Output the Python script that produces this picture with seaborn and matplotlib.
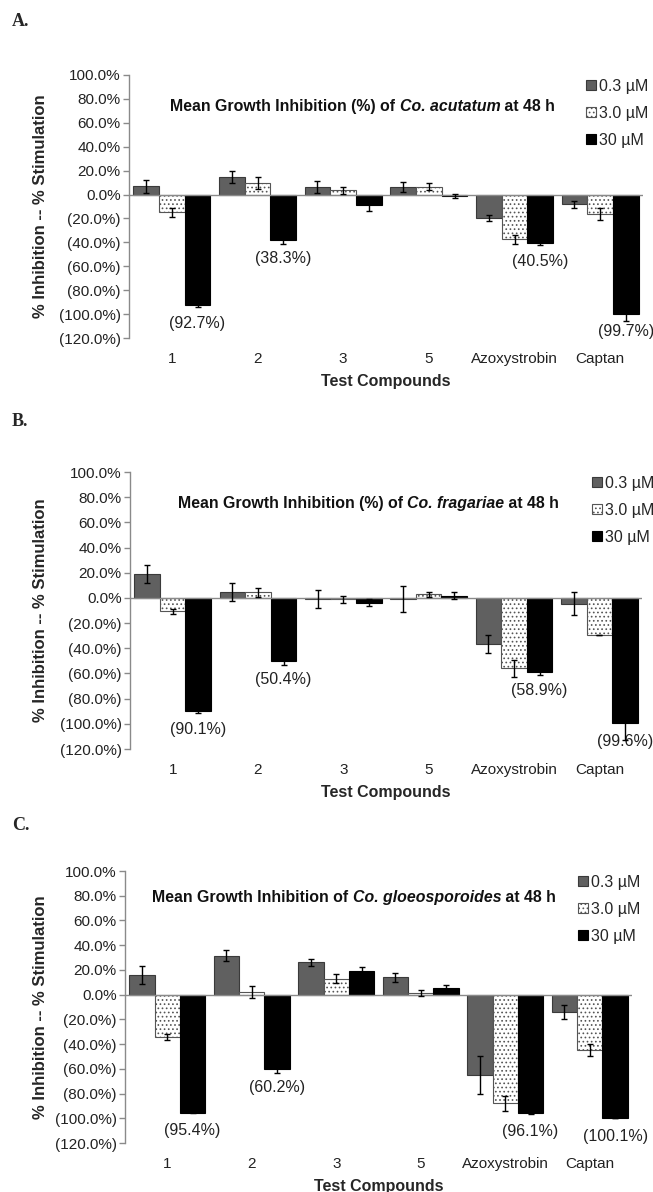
import matplotlib
matplotlib.use("Agg")
import matplotlib.pyplot as plt
import seaborn as sns
import pandas as pd
from matplotlib.ticker import FuncFormatter, FixedLocator
from matplotlib.offsetbox import TextArea, HPacker, AnchoredOffsetbox

# ---------------- data ----------------
compounds = ["1", "2", "3", "5", "Azoxystrobin", "Captan"]
concs = ["0.3 µM", "3.0 µM", "30 µM"]

A_03 = [7, 15, 6, 6.5, -20, -8]
A_03_err = [5.5, 5, 5, 4, 2.5, 3]
A_3 = [-15, 10, 3.5, 6.5, -37.5, -16.5]
A_3_err = [3.5, 5, 3, 3, 4, 5]
A_30 = [-92.7, -38.3, -8.5, -1.2, -40.5, -99.7]
A_30_err = [1, 3, 5, 1.5, 2, 6]

B_03 = [19, 4.5, -1, -1, -36.5, -4.7]
B_03_err = [7, 7, 7, 10.5, 7, 9]
B_3 = [-10.5, 4.5, -1.2, 3, -56, -29.5]
B_3_err = [2, 3.5, 3, 2, 7, 0]
B_30 = [-90.1, -50.4, -3.7, 1.8, -58.9, -99.6]
B_30_err = [1, 3, 3, 3, 2, 13]

C_03 = [16, 31.5, 26, 14, -65, -14]
C_03_err = [7, 4.5, 2.5, 3.5, 15, 6]
C_3 = [-34.5, 2, 13, 1, -88, -45]
C_3_err = [2.5, 5, 3.5, 2.5, 6, 5]
C_30 = [-95.4, -60.2, 19.2, 5, -96.1, -100.1]
C_30_err = [0.5, 3, 3.5, 3, 0.5, 0]

labelled_groups = [0, 1, 4, 5]   # groups whose 30 µM value is printed
yticks = [100, 80, 60, 40, 20, 0, -20, -40, -60, -80, -100, -120]

panels = [
    dict(letter="A.", species="Co. acutatum", pre="Mean Growth Inhibition (%) of ",
         vals=[A_03, A_3, A_30], errs=[A_03_err, A_3_err, A_30_err]),
    dict(letter="B.", species="Co. fragariae", pre="Mean Growth Inhibition (%) of ",
         vals=[B_03, B_3, B_30], errs=[B_03_err, B_3_err, B_30_err]),
    dict(letter="C.", species="Co. gloeosporoides", pre="Mean Growth Inhibition of ",
         vals=[C_03, C_3, C_30], errs=[C_03_err, C_3_err, C_30_err]),
]

# ---------------- layout (pixels) ----------------
W, H = 653, 1192
axes_px = [(129, 643, 75, 338), (130, 642, 472, 749), (125, 632, 871, 1143)]
letter_y = [22, 422, 825]
title_c = [(0.455, 0.882), (0.466, 0.888), (0.452, 0.904)]
legend_xy = [(586, 79), (592, 476), (578, 875)]
ylabel_right_px = 48

sns.set_theme(style="white")
plt.rcParams["font.family"] = ["Liberation Sans", "DejaVu Sans"]
plt.rcParams["hatch.linewidth"] = 0.7

fig = plt.figure(figsize=(W / 100, H / 100), dpi=100)

fill_cols = ["#606060", "#ffffff", "#000000"]
edge_cols = ["#3a3a3a", "#555555", "#000000"]
hatches = [None, "....", None]


def pct_fmt(v, pos):
    if abs(v) < 1e-9:
        return "0.0%"
    if v < 0:
        return f"({abs(v):.1f}%)"
    return f"{v:.1f}%"


for p, (l, r, t, b), ly, tc, lg in zip(panels, axes_px, letter_y, title_c, legend_xy):
    ax = fig.add_axes([l / W, 1 - b / H, (r - l) / W, (b - t) / H])
    rows = []
    for ci, c in enumerate(concs):
        for gi, comp in enumerate(compounds):
            rows.append(dict(compound=comp, conc=c, value=p["vals"][ci][gi]))
    df = pd.DataFrame(rows)
    sns.barplot(data=df, x="compound", y="value", hue="conc", order=compounds,
                hue_order=concs, palette=fill_cols, width=0.9, gap=0,
                errorbar=None, ax=ax, legend=False, saturation=1)
    bar_conts = list(ax.containers)
    handles = []
    for ci, cont in enumerate(bar_conts):
        xs, ys = [], []
        for patch in cont.patches:
            patch.set_edgecolor(edge_cols[ci])
            patch.set_linewidth(0.8)
            if hatches[ci]:
                patch.set_hatch(hatches[ci])
            xs.append(patch.get_x() + patch.get_width() / 2)
            ys.append(patch.get_y() + patch.get_height())
        ax.errorbar(xs, ys, yerr=p["errs"][ci], fmt="none", ecolor="black",
                    elinewidth=1, capsize=2.5, capthick=1, zorder=5)
        handles.append(cont.patches[0])
        if ci == 2:
            for gi in labelled_groups:
                ax.annotate(f"({abs(p['vals'][2][gi]):.1f}%)", xy=(xs[gi], ys[gi]),
                            xytext=(0, -13), textcoords="offset points",
                            ha="center", va="center", fontsize=11.5, color="#222222")

    ax.set_ylim(-120, 100)
    ax.set_xlim(-0.5, len(compounds) - 0.5)
    ax.axhline(0, color="#8a8a8a", lw=1, zorder=1)
    ax.yaxis.set_major_locator(FixedLocator(yticks))
    ax.yaxis.set_major_formatter(FuncFormatter(pct_fmt))
    for s in ["top", "right", "bottom"]:
        ax.spines[s].set_visible(False)
    ax.spines["left"].set_color("#8a8a8a")
    ax.spines["left"].set_linewidth(1)
    ax.tick_params(axis="y", left=True, length=4, width=1, color="#8a8a8a",
                   labelsize=11, labelcolor="#222222", pad=2)
    ax.tick_params(axis="x", bottom=False, labelsize=11, labelcolor="#222222", pad=4)
    ax.set_xlabel("Test Compounds", fontsize=11.5, fontweight="bold", labelpad=6)
    ax.set_ylabel("% Inhibition -- % Stimulation", fontsize=12, fontweight="bold")
    ax.yaxis.set_label_coords((ylabel_right_px - l) / (r - l), 0.5)

    tp = dict(fontsize=11.4, fontweight="bold", color="#111111")
    t1 = TextArea(p["pre"], textprops=tp)
    t2 = TextArea(p["species"], textprops=dict(tp, style="italic"))
    t3 = TextArea(" at 48 h", textprops=tp)
    pack = HPacker(children=[t1, t2, t3], sep=0, pad=0, align="baseline")
    box = AnchoredOffsetbox(loc="center", child=pack, pad=0, borderpad=0,
                            frameon=False, bbox_to_anchor=tc,
                            bbox_transform=ax.transAxes)
    ax.add_artist(box)

    fig.legend(handles, concs, loc="upper left",
               bbox_to_anchor=(lg[0] / W, 1 - lg[1] / H),
               bbox_transform=fig.transFigure, frameon=False, fontsize=11.5,
               handlelength=0.6, handleheight=0.6, handletextpad=0.2,
               labelspacing=0.75, borderpad=0, borderaxespad=0)

    fig.text(12 / W, 1 - ly / H, p["letter"], fontsize=13, fontweight="bold",
             family=["Liberation Serif", "DejaVu Serif"], va="center", ha="left")

fig.savefig("out.png", dpi=100)
